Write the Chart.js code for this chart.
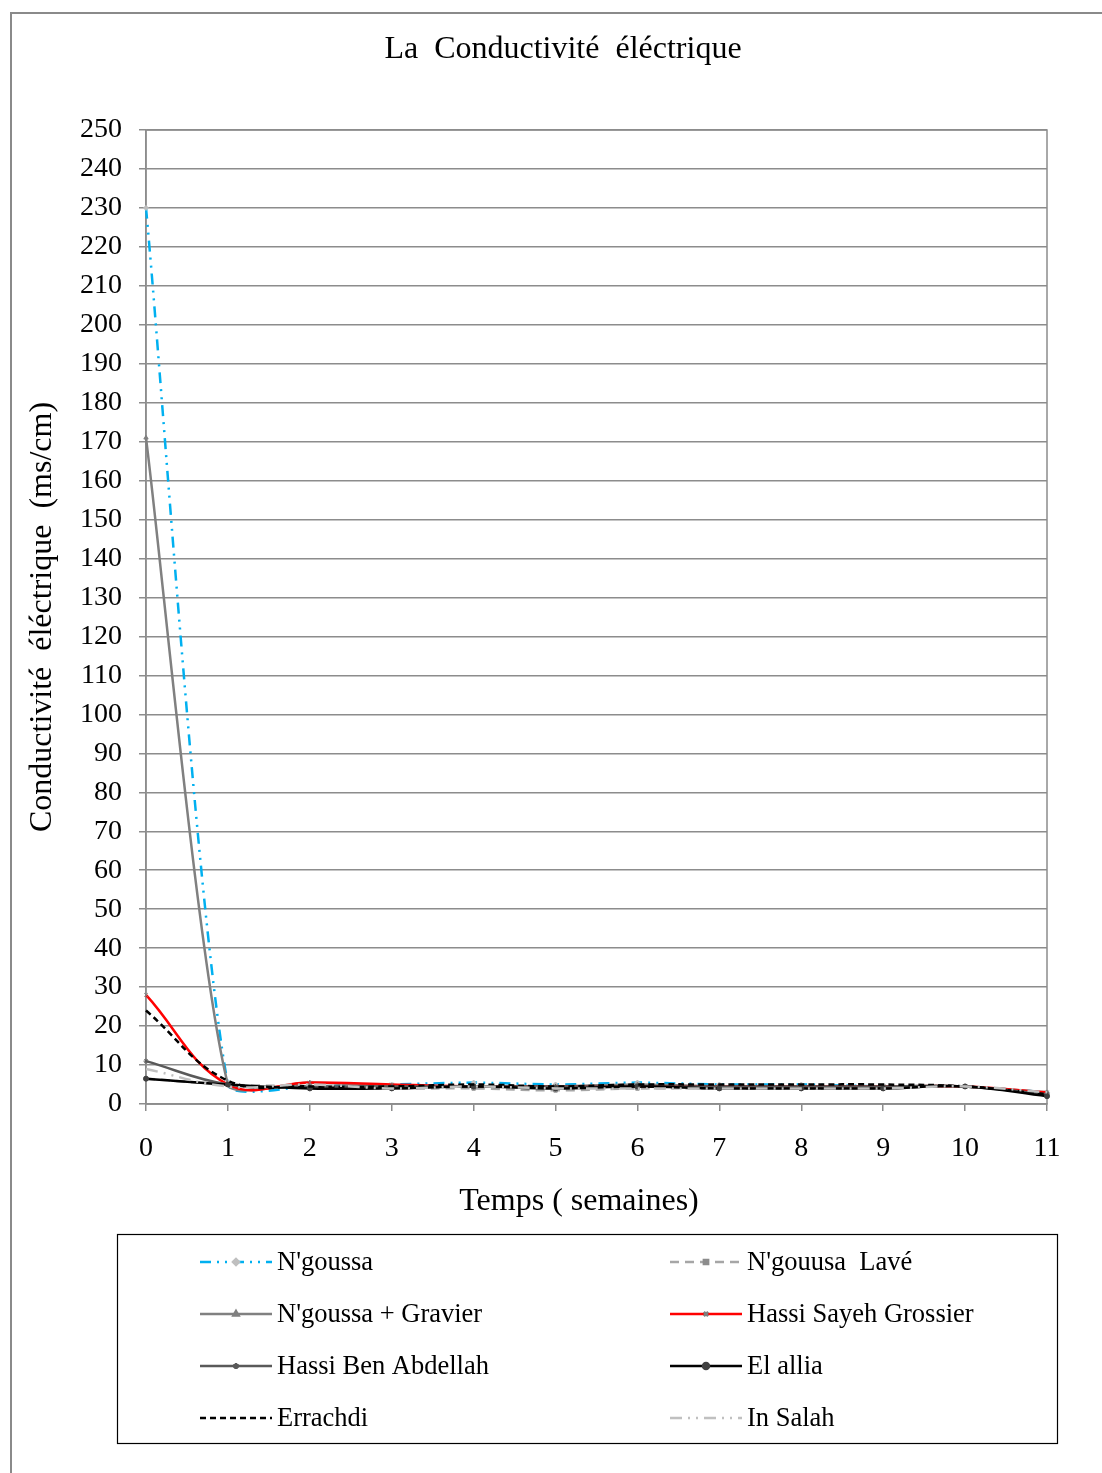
<!DOCTYPE html>
<html lang="fr">
  <head>
    <meta charset="UTF-8" />
    <title>La Conductivité éléctrique</title>
    <script src="https://cdn.jsdelivr.net/npm/chart.js"></script>
    <style>
      body { margin: 0; background: #fff; }
      #wrap { position: relative; width: 1102px; height: 1473px; overflow: hidden; }
      #frame {
        position: absolute; left: 10px; top: 12px; width: 1100px; height: 1470px;
        border-left: 2px solid #8a8a8a; border-top: 2px solid #8a8a8a;
      }
      #chart { position: absolute; left: 0; top: 0; }
    </style>
  </head>
  <body>
    <div id="wrap">
      <div id="frame"></div>
      <canvas id="chart" width="1102" height="1473"></canvas>
    </div>

    <script>
      // weeks on the x axis
      const weeks = ["0", "1", "2", "3", "4", "5", "6", "7", "8", "9", "10", "11"];

      // conductivity values (ms/cm)
      const ngoussa       = [230, 5, 4.5, 5, 5.5, 5, 5.5, 5, 5, 4.5, 4.5, 3];
      const ngoussaLave   = [6.5, 5, 4.5, 4, 4, 3.5, 4, 4, 4, 4, 4.5, 2.5];
      const ngoussaGrav   = [171, 5, 5.5, 4.5, 4.5, 4.5, 5, 4.5, 4.5, 4.5, 4.5, 3];
      const hassiSayeh    = [28, 5, 5.5, 5, 4.5, 4.5, 4.5, 4.5, 4.5, 4.5, 4.5, 3];
      const hassiBenAbd   = [11, 5, 4.5, 4.5, 4.5, 4.5, 4.5, 4.5, 4.5, 4.5, 4.5, 2.5];
      const elAllia       = [6.5, 5, 4, 4, 4.5, 4, 4.5, 4, 4, 4, 4.5, 2];
      const errachdi      = [24, 6, 4.5, 4.5, 5, 4.5, 5, 5, 5, 5, 4.5, 2.5];
      const inSalah       = [9, 4.5, 5, 4, 4.5, 4, 4, 4, 4, 4, 4.5, 3];

      const FONT = "'Liberation Serif', 'Times New Roman', serif";
      const GRID = "#8c8c8c";
      const TITLE = "La  Conductivité  éléctrique";
      const X_TITLE = "Temps ( semaines)";

      const series = [
        { label: "N'goussa", data: ngoussa, color: "#00b0f0", dash: [11, 6, 2, 6, 2, 6], style: "rectRot", mark: "#bfbfbf", tension: 0.2 },
        { label: "N'gouusa  Lavé", data: ngoussaLave, color: "#a6a6a6", dash: [9, 6], style: "rect", mark: "#8c8c8c", tension: 0.4 },
        { label: "N'goussa + Gravier", data: ngoussaGrav, color: "#808080", dash: [], style: "triangle", mark: "#808080", tension: 0.2 },
        { label: "Hassi Sayeh Grossier", data: hassiSayeh, color: "#ff0000", dash: [], style: "crossRot", mark: "#7f7f7f", tension: 0.4 },
        { label: "Hassi Ben Abdellah", data: hassiBenAbd, color: "#595959", dash: [], style: "star", mark: "#595959", tension: 0.4 },
        { label: "El allia", data: elAllia, color: "#000000", dash: [], style: "circle", mark: "#404040", tension: 0.4 },
        { label: "Errachdi", data: errachdi, color: "#000000", dash: [6, 4], style: "line", mark: "#000000", tension: 0.4 },
        { label: "In Salah", data: inSalah, color: "#c0c0c0", dash: [12, 6, 2, 6, 2, 6], style: "line", mark: "#c0c0c0", tension: 0.4 },
      ];

      // gray box around the plot area + chart title + x axis title
      const plotBorder = {
        id: "plotBorder",
        beforeDatasetsDraw(chart) {
          const { ctx, chartArea: a } = chart;
          ctx.save();
          ctx.strokeStyle = GRID;
          ctx.lineWidth = 1.5;
          ctx.strokeRect(a.left, a.top, a.right - a.left, a.bottom - a.top);
          ctx.fillStyle = "#000";
          ctx.font = "32px " + FONT;
          ctx.textAlign = "center";
          ctx.textBaseline = "middle";
          ctx.fillText(TITLE, 563, 50);
          ctx.fillText(X_TITLE, 579, 1202);
          ctx.restore();
        },
      };

      // two-column legend in a black box, like the original
      const boxLegend = {
        id: "boxLegend",
        afterDraw(chart) {
          const ctx = chart.ctx;
          ctx.save();
          ctx.strokeStyle = "#000";
          ctx.lineWidth = 1.2;
          ctx.setLineDash([]);
          ctx.strokeRect(117.5, 1234.5, 940, 209);
          chart.data.datasets.forEach((ds, i) => {
            const x0 = i % 2 ? 670 : 200;
            const y = 1262 + Math.floor(i / 2) * 52;
            ctx.strokeStyle = ds.borderColor;
            ctx.lineWidth = ds.borderWidth;
            ctx.setLineDash(ds.borderDash || []);
            ctx.beginPath();
            ctx.moveTo(x0, y);
            ctx.lineTo(x0 + 72, y);
            ctx.stroke();
            ctx.setLineDash([]);
            if (ds.pointStyle !== "line") {
              ctx.fillStyle = ds.pointBackgroundColor;
              ctx.strokeStyle = ds.pointBorderColor;
              Chart.helpers.drawPoint(ctx, { pointStyle: ds.pointStyle, radius: 3, rotation: 0, borderWidth: 1 }, x0 + 36, y);
            }
            ctx.fillStyle = "#000";
            ctx.font = "26.5px " + FONT;
            ctx.textBaseline = "middle";
            ctx.textAlign = "left";
            ctx.fillText(ds.label, x0 + 77, y + 1);
          });
          ctx.restore();
        },
      };

      new Chart(document.getElementById("chart"), {
        type: "line",
        data: {
          labels: weeks,
          datasets: series.map((s, i) => ({
            label: s.label,
            data: s.data,
            borderColor: s.color,
            borderWidth: 2.5,
            borderDash: s.dash,
            tension: s.tension,
            pointStyle: s.style,
            pointRadius: s.style === "line" ? 0 : 2.5,
            pointBackgroundColor: s.mark,
            pointBorderColor: s.mark,
            pointBorderWidth: 1,
            fill: false,
            order: series.length - 1 - i,
          })),
        },
        options: {
          responsive: false,
          animation: false,
          events: [],
          layout: { padding: { left: 0, right: 55, top: 130, bottom: 244 } },
          plugins: {
            legend: { display: false },
            tooltip: { enabled: false },
            title: { display: false },
          },
          scales: {
            x: {
              type: "category",
              offset: false,
              afterFit(scale) { scale.height = 125; },
              grid: { display: true, drawOnChartArea: false, color: GRID, lineWidth: 1.5, tickLength: 7, offset: false },
              border: { color: GRID, width: 1.5 },
              ticks: { color: "#000", padding: 21, maxRotation: 0, font: { family: FONT, size: 28 } },
              title: { display: false },
            },
            y: {
              min: 0,
              max: 250,
              afterFit(scale) { scale.width = 146; },
              grid: { color: GRID, lineWidth: 1.5, tickLength: 7 },
              border: { color: GRID, width: 1.5 },
              ticks: { stepSize: 10, color: "#000", padding: 17, font: { family: FONT, size: 28 } },
              title: {
                display: true,
                text: "Conductivité  éléctrique  (ms/cm)",
                color: "#000",
                font: { family: FONT, size: 32, lineHeight: 1.2 },
                padding: { top: 23, bottom: 0 },
              },
            },
          },
        },
        plugins: [plotBorder, boxLegend],
      });
    </script>
  </body>
</html>
